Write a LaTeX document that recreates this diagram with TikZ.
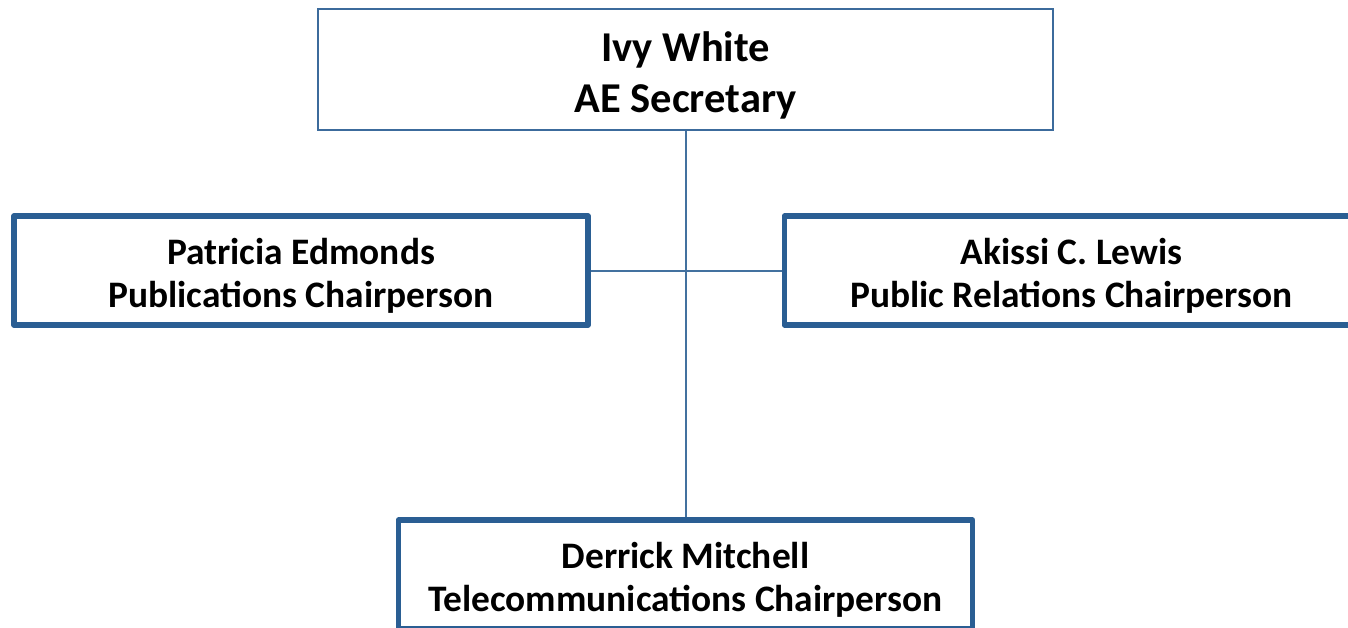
\documentclass[tikz,border=0pt]{standalone}
\usepackage{fontspec}
\setmainfont{Carlito}
\definecolor{thickblue}{HTML}{2A5E93}
\definecolor{thinblue}{HTML}{3C6B9C}
\definecolor{linkblue}{HTML}{43719F}
\newcommand{\firststrut}{\rule{0pt}{0.98em}}
\tikzset{
  topbox/.style={draw=thinblue, line width=2pt, minimum width=735pt, minimum height=121pt, inner sep=0pt, align=center, font=\fontsize{42.5}{51}\selectfont\bfseries},
  chairbox/.style={draw=thickblue, line width=5.5pt, line join=round, minimum width=574pt, minimum height=109pt, inner sep=0pt, align=center, font=\fontsize{37.4}{43}\selectfont\bfseries},
  link/.style={draw=linkblue, line width=2pt}
}
\begin{document}
\begin{tikzpicture}[x=1pt,y=-1pt]
\useasboundingbox[fill=white] (0,0) rectangle (1348,627);
\node[topbox] (top) at (685.5,69.5) {\firststrut Ivy White\\AE Secretary};
\node[chairbox] (left) at (301,270.5) {\firststrut Patricia Edmonds\\Publications Chairperson};
\node[chairbox] (right) at (1071.5,270.5) {\firststrut Akissi C. Lewis\\Public Relations Chairperson};
\node[chairbox] (bottom) at (685.5,574.5) {\firststrut Derrick Mitchell\\Telecommunications Chairperson};
\draw[link] (top.south) -- (bottom.north);
\draw[link] (left.east) -- (right.west);
\end{tikzpicture}
\end{document}
